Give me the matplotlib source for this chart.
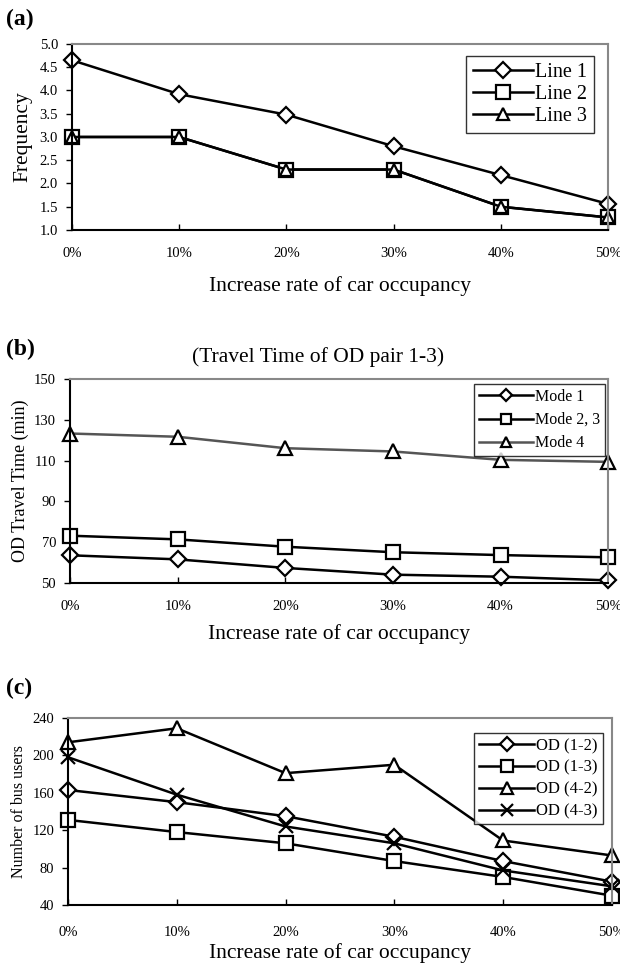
import numpy as np
import matplotlib
matplotlib.use("Agg")
import matplotlib.pyplot as plt

plt.rcParams['font.family'] = ['Liberation Serif', 'DejaVu Serif']

rates = [0, 10, 20, 30, 40, 50]
rate_labels = ['0%', '10%', '20%', '30%', '40%', '50%']

# (a) frequency
line1 = [4.65, 3.92, 3.48, 2.80, 2.18, 1.56]
line2 = [3.0, 3.0, 2.3, 2.3, 1.5, 1.27]
line3 = [3.0, 3.0, 2.3, 2.3, 1.5, 1.27]

# (b) travel time of OD pair 1-3
mode1 = [63.6, 61.6, 57.4, 54.1, 53.1, 51.3]
mode23 = [73.2, 71.4, 67.8, 65.1, 63.7, 62.6]
mode4 = [123.3, 121.7, 116.1, 114.5, 110.4, 109.4]

# (c) number of bus users
od12 = [163, 150, 135, 113, 87, 65]
od13 = [131, 118, 106, 87, 70, 50]
od42 = [214, 229, 181, 190, 109, 93]
od43 = [198, 158, 124, 106, 77, 60]

fig = plt.figure(figsize=(6.2, 9.64), dpi=100)

def style(ax, ymin, ymax, ystep, xpad=12):
    ax.set_xlim(0, 50)
    ax.set_ylim(ymin, ymax)
    ax.set_xticks(rates)
    ax.set_xticklabels(rate_labels)
    ax.set_yticks(np.arange(ymin, ymax + ystep / 2, ystep))
    for s in ['left', 'bottom']:
        ax.spines[s].set_color('black')
        ax.spines[s].set_linewidth(1.5)
    for s in ['top', 'right']:
        ax.spines[s].set_color('#888888')
        ax.spines[s].set_linewidth(1.5)
    ax.tick_params(axis='y', direction='out', length=4, width=1, labelsize=10.5, pad=6)
    ax.tick_params(axis='x', direction='in', length=4, width=1, labelsize=10.5, pad=xpad)

mk = dict(mfc='white', mec='black', mew=1.6, color='black', lw=1.8, clip_on=False)
leg = dict(frameon=True, fancybox=False, edgecolor='black', handletextpad=0.1,
           borderaxespad=0)

# panel a
ax1 = fig.add_axes([0.116, 0.7614, 0.865, 0.193])
ax1.plot(rates, line1, marker='D', ms=8.5, label='Line 1', **mk)
ax1.plot(rates, line2, marker='s', ms=9.5, label='Line 2', **mk)
ax1.plot(rates, line3, marker='^', ms=9, label='Line 3', **mk)
style(ax1, 1.0, 5.0, 0.5)
ax1.set_yticklabels(['%.1f' % v for v in np.arange(1.0, 5.01, 0.5)])
ax1.set_ylabel('Frequency', fontsize=15.5)
ax1.yaxis.set_label_coords(-0.074, 0.5)
ax1.set_xlabel('Increase rate of car occupancy', fontsize=15.5, labelpad=12)
ax1.legend(loc='upper right', bbox_to_anchor=(0.974, 0.935), fontsize=14.5,
           handlelength=3.0, labelspacing=0.15, borderpad=0.35, **leg)
fig.text(0.01, 0.980, '(a)', fontsize=17, fontweight='bold', va='center')

# panel b
ax2 = fig.add_axes([0.113, 0.3952, 0.868, 0.2116])
ax2.plot(rates, mode1, marker='D', ms=8.5, label='Mode 1', **mk)
ax2.plot(rates, mode23, marker='s', ms=10, label='Mode 2, 3', **mk)
mk4 = dict(mk)
mk4['color'] = '#555555'
ax2.plot(rates, mode4, marker='^', ms=10.5, label='Mode 4', **mk4)
style(ax2, 50, 150, 20)
ax2.set_ylabel('OD Travel Time (min)', fontsize=13, labelpad=4)
ax2.set_xlabel('Increase rate of car occupancy', fontsize=15.5, labelpad=8)
ax2.set_title('(Travel Time of OD pair 1-3)', fontsize=15.5, pad=12, x=0.46)
ax2.legend(loc='upper right', bbox_to_anchor=(0.994, 0.975), fontsize=11.5,
           handlelength=3.4, labelspacing=0.45, borderpad=0.3, markerscale=0.7, **leg)
fig.text(0.01, 0.637, '(b)', fontsize=17, fontweight='bold', va='center')

# panel c
ax3 = fig.add_axes([0.1097, 0.0612, 0.877, 0.194])
ax3.plot(rates, od12, marker='D', ms=8.5, label='OD (1-2)', **mk)
ax3.plot(rates, od13, marker='s', ms=10, label='OD (1-3)', **mk)
ax3.plot(rates, od42, marker='^', ms=10, label='OD (4-2)', **mk)
ax3.plot(rates, od43, marker='x', ms=10, label='OD (4-3)', **mk)
style(ax3, 40, 240, 40, xpad=15)
ax3.set_ylabel('Number of bus users', fontsize=11.5, labelpad=4)
ax3.set_xlabel('Increase rate of car occupancy', fontsize=15.5, labelpad=3)
ax3.legend(loc='upper right', bbox_to_anchor=(0.983, 0.92), fontsize=12,
           handlelength=3.3, labelspacing=0.35, borderpad=0.3, markerscale=0.8, **leg)
fig.text(0.01, 0.286, '(c)', fontsize=17, fontweight='bold', va='center')

fig.savefig('out.png', dpi=100)
